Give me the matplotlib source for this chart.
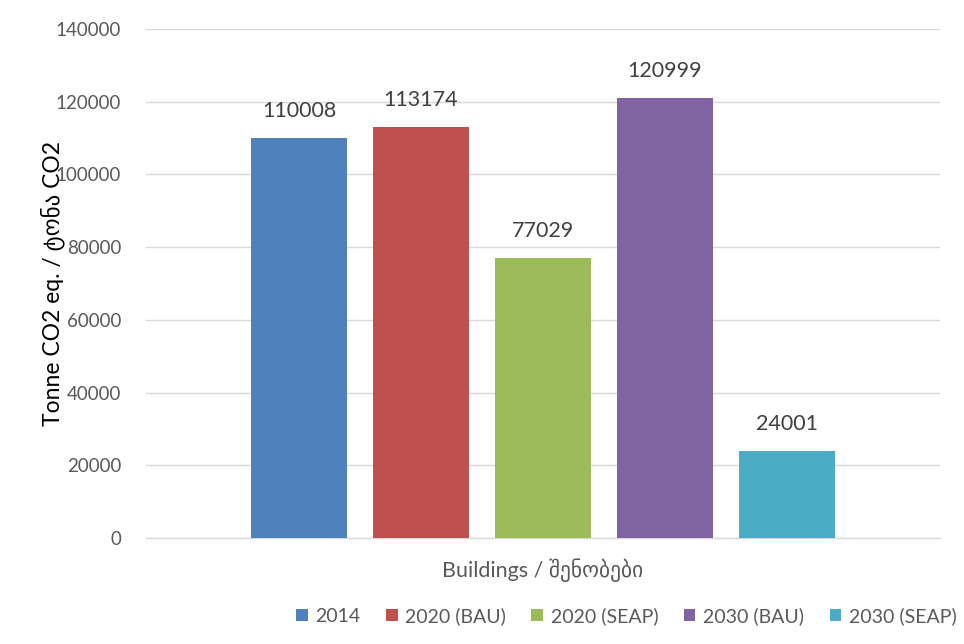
import matplotlib
matplotlib.use('Agg')
import matplotlib.pyplot as plt
import numpy as np

plt.rcParams['font.family'] = ['Lato', 'DejaVu Sans']

category = 'Buildings / შენობები'
series = ['2014', '2020 (BAU)', '2020 (SEAP)', '2030 (BAU)', '2030 (SEAP)']
values = [110008, 113174, 77029, 120999, 24001]
colors = ['#4f81bd', '#c0504d', '#9bbb59', '#8064a2', '#4bacc6']
yticks = [0, 20000, 40000, 60000, 80000, 100000, 120000, 140000]

fig = plt.figure(figsize=(9.64, 6.44), dpi=100)
ax = fig.add_axes([0.1515, 0.1646, 0.8236, 0.7904])

step = 0.1537
width = 0.121
grey = '#595959'
for i, (name, v, c) in enumerate(zip(series, values, colors)):
    x = 0.5 + (i - 2) * step
    ax.bar(x, v, width=width, color=c, label=name, zorder=3)
    ax.text(x, v + 4600, str(v), ha='center', va='bottom',
            fontsize=15.5, color='#404040')

ax.set_xlim(0, 1)
ax.set_ylim(0, 140000)
ax.set_yticks(yticks)
ax.set_yticklabels([str(t) for t in yticks], fontsize=13.5, color=grey)
ax.set_xticks([])
ax.tick_params(axis='y', length=0, pad=18)
ax.yaxis.grid(True, color='#d9d9d9', linewidth=1, zorder=0)
for s in ['top', 'right', 'left']:
    ax.spines[s].set_visible(False)
ax.spines['bottom'].set_color('#d9d9d9')
ax.spines['bottom'].set_linewidth(1)

ax.set_xlabel(category, fontsize=15.5, color=grey, labelpad=15)
ax.set_ylabel('Tonne CO2 eq. / ტონა CO2', fontsize=16.5, color='black', labelpad=-7)

ax.legend(loc='center', bbox_to_anchor=(0.605, -0.153), ncol=5, frameon=False,
          fontsize=14, handlelength=0.6, handleheight=0.6, handletextpad=0.4,
          columnspacing=1.3, labelcolor=grey)

fig.savefig('out.png', dpi=100)
